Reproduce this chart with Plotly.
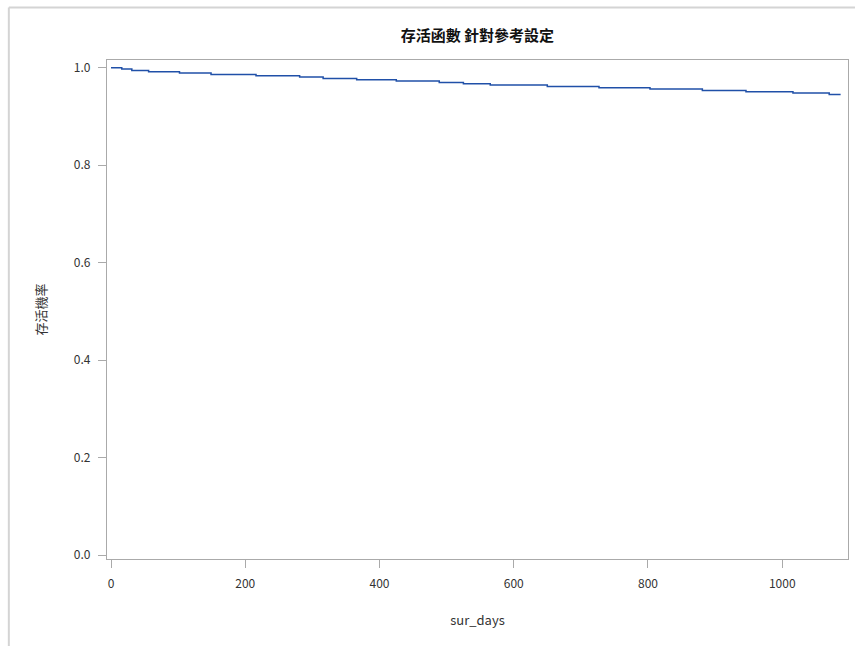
import plotly.graph_objects as go

days = [0, 16, 31, 56, 102, 149, 216, 281, 316, 366, 425, 489, 525, 565,
        650, 727, 803, 881, 946, 1016, 1070, 1087]
survival = [1.000, 0.9973, 0.9945, 0.9918, 0.9891, 0.9864, 0.9836, 0.9809,
            0.9782, 0.9755, 0.9727, 0.9700, 0.9673, 0.9645, 0.9618, 0.9591,
            0.9564, 0.9536, 0.9509, 0.9482, 0.9454, 0.9454]

title_text = "存活函數 針對參考設定"
x_title = "sur_days"
y_title = "存活機率"
y_ticks = [0.0, 0.2, 0.4, 0.6, 0.8, 1.0]
x_ticks = [0, 200, 400, 600, 800, 1000]

W, H = 855, 646
L, R, T, B = 106.7, 848, 60, 559

fig = go.Figure()
fig.add_trace(go.Scatter(
    x=days, y=survival, mode="lines", line=dict(color="#2050A8", width=1.5, shape="hv"),
    showlegend=False, hoverinfo="x+y"))

def px(x):
    return (x - L) / (R - L)

def py(y):
    return (B - y) / (B - T)

# outer frame lines (light gray)
fig.add_shape(type="line", xref="paper", yref="paper", x0=px(8.5), x1=px(8.5), y0=py(7.5), y1=py(646),
              line=dict(color="#d4d4d4", width=2))
fig.add_shape(type="line", xref="paper", yref="paper", x0=px(8.5), x1=px(855), y0=py(7.5), y1=py(7.5),
              line=dict(color="#d4d4d4", width=2))

font_cjk = "Noto Sans CJK TC, Noto Sans, sans-serif"
axis_common = dict(showgrid=False, zeroline=False, showline=True, linecolor="#aaaaaa", linewidth=1.2,
                   mirror=True, ticks="outside", ticklen=8, tickcolor="#aaaaaa", tickwidth=1.2,
                   tickfont=dict(family=font_cjk, size=12, color="#333333"))

fig.update_layout(
    width=W, height=H,
    margin=dict(l=L, r=W - R, t=T, b=H - B),
    paper_bgcolor="white", plot_bgcolor="white",
    title=dict(text="<b>" + title_text + "</b>", x=(L + R) / 2 / W, xanchor="center",
               y=1 - 36 / H, yanchor="middle",
               font=dict(family=font_cjk, size=15, color="#111111")),
    xaxis=dict(range=[-6, 1098], tickvals=x_ticks, ticktext=[str(v) for v in x_ticks],
               ticklabelstandoff=5,
               title=dict(text=x_title, font=dict(family=font_cjk, size=13, color="#333333"), standoff=26),
               **axis_common),
    yaxis=dict(range=[-0.008, 1.016], tickvals=y_ticks, ticktext=[f"{v:.1f}" for v in y_ticks],
               ticklabelstandoff=5,
               title=dict(text=y_title, font=dict(family=font_cjk, size=13, color="#333333"), standoff=24),
               **axis_common),
)

fig.write_html("out.html", config={"displayModeBar": False})
with open("out.html", "r", encoding="utf-8") as f:
    html = f.read()
html = html.replace("<head>", "<head><style>html,body{margin:0;padding:0;overflow:hidden;}</style>", 1)
with open("out.html", "w", encoding="utf-8") as f:
    f.write(html)
